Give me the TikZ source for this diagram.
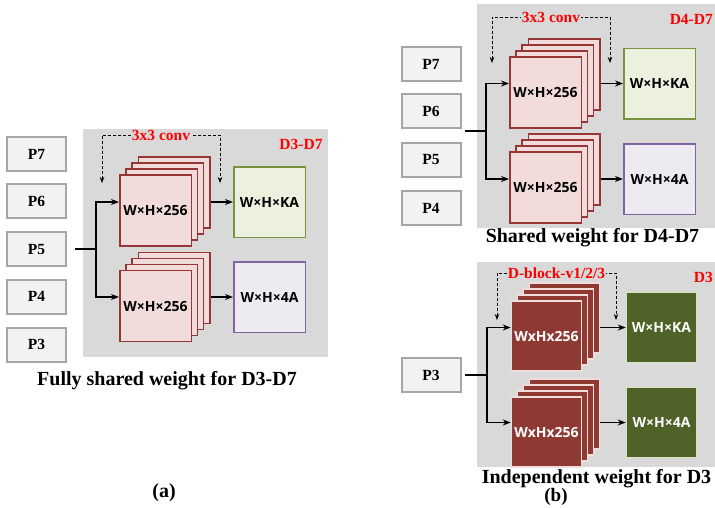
\documentclass[tikz,border=0pt]{standalone}
\usepackage{fontspec}
\setmainfont{Liberation Serif}
\newfontfamily\boxfont{Open Sans}
\usepackage{tikz}
\usetikzlibrary{arrows.meta,calc}
\definecolor{panelgray}{HTML}{D9D9D9}
\definecolor{pfill}{HTML}{F2F2F2}
\definecolor{pedge}{HTML}{A6A6A6}
\definecolor{rosefill}{HTML}{F2DCDB}
\definecolor{roseedge}{HTML}{953735}
\definecolor{clsfill}{HTML}{EBF1DE}
\definecolor{clsedge}{HTML}{77933C}
\definecolor{regfill}{HTML}{EDEAF2}
\definecolor{regedge}{HTML}{8064A2}
\definecolor{brick}{HTML}{8E3A33}
\definecolor{olive}{HTML}{4F6228}
\definecolor{olivelight}{HTML}{D7E4BD}
\newcommand{\dims}[1]{{\boxfont\bfseries\fontsize{14}{16}\selectfont #1}}
\tikzset{
  pbox/.style    = {rectangle, draw=pedge, fill=pfill, line width=2pt, minimum width=59pt,
                    minimum height=34pt, inner sep=0pt, font=\bfseries\fontsize{15.5}{18}\selectfont},
  layer/.style   = {rectangle, draw=roseedge, fill=rosefill, line width=1.5pt,
                    minimum width=71.5pt, minimum height=71pt, inner sep=0pt},
  darklayer/.style = {rectangle, draw=rosefill, fill=brick, line width=1.5pt, text=white,
                    minimum width=70pt, minimum height=70pt, inner sep=0pt},
  outbox/.style  = {rectangle, draw=#1edge, fill=#1fill, line width=1.5pt,
                    minimum width=71.5pt, minimum height=70.5pt, inner sep=0pt},
  darkout/.style = {rectangle, draw=olivelight, fill=olive, line width=1.5pt, text=white,
                    minimum width=70pt, minimum height=70pt, inner sep=0pt},
  flow/.style    = {-{Stealth[length=8pt, width=6pt]}, line width=1.2pt},
  share/.style   = {{Stealth[length=6pt, width=4.5pt]}-{Stealth[length=6pt, width=4.5pt]},
                    dash pattern=on 3pt off 2pt, line width=0.8pt},
  tag/.style     = {text=red, font=\bfseries\fontsize{15.5}{18}\selectfont, inner sep=1pt},
  caption/.style = {font=\bfseries\fontsize{20}{24}\selectfont, inner sep=0pt},
}

\begin{document}
\begin{tikzpicture}[x=1pt, y=-1pt]
  \useasboundingbox (0,0) rectangle (715,507);

  % (a) fully shared head
  \fill[panelgray] (83,129) rectangle (328,357);
  \foreach \p/\y in {P7/154, P6/201, P5/249, P4/296.5, P3/344.5}
    \node[pbox] (a\p) at (36.5,\y) {\p};
  \foreach \nm/\cx/\cy in {sa/155.5/210.5, sb/155.5/306} {
    \foreach \k in {3,2,1}
      \node[layer] (\nm\k) at ({\cx+6.2*\k},{\cy-6*\k}) {};
    \node[layer] (\nm) at (\cx,\cy) {\dims{W×H×256}};
  }
  \node[outbox=cls] (acls) at (269.5,202) {\dims{W×H×KA}};
  \node[outbox=reg] (areg) at (269.5,297) {\dims{W×H×4A}};
  \coordinate (ain) at (75,249);
  \coordinate (asplit) at (96,249);
  \draw[line width=1.2pt] (ain) -- (asplit);
  \draw[flow] (asplit) |- (sa.west |- acls.west);
  \draw[flow] (asplit) |- (sb.west |- areg.west);
  \draw[flow] (sa3.east |- acls.west) -- (acls.west);
  \draw[flow] (sb3.east |- areg.west) -- (areg.west);
  \coordinate (al) at (102,183);
  \coordinate (ar) at (220,183);
  \coordinate (atop) at (0,135);
  \draw[share] (al) -- (al |- atop) -- node[tag, fill=panelgray] (aconv) {3x3 conv} (ar |- atop) -- (ar);
  \node[tag] (arange) at (301,144) {D3-D7};
  \node[caption] (acap) at (167,381) {Fully shared weight for D3-D7};
  \node[caption] (alabel) at (164,493) {(a)};

  % (b) shared head for D4-D7
  \fill[panelgray] (477,4) rectangle (715,228);
  \foreach \p/\y in {P7/64, P6/111, P5/159.5, P4/208}
    \node[pbox] (b\p) at (431,\y) {\p};
  \foreach \nm/\cx/\cy in {ta/545.5/92.5, tb/545.5/187.5} {
    \foreach \k in {3,2,1}
      \node[layer] (\nm\k) at ({\cx+6.2*\k},{\cy-6*\k}) {};
    \node[layer] (\nm) at (\cx,\cy) {\dims{W×H×256}};
  }
  \node[outbox=cls] (tcls) at (659.5,83.5) {\dims{W×H×KA}};
  \node[outbox=reg] (treg) at (659.5,179) {\dims{W×H×4A}};
  \coordinate (tin) at (465,131);
  \coordinate (tsplit) at (486,131);
  \draw[line width=1.2pt] (tin) -- (tsplit);
  \draw[flow] (tsplit) |- (ta.west |- tcls.west);
  \draw[flow] (tsplit) |- (tb.west |- treg.west);
  \draw[flow] (ta3.east |- tcls.west) -- (tcls.west);
  \draw[flow] (tb3.east |- treg.west) -- (treg.west);
  \coordinate (tl) at (492,63);
  \coordinate (tr) at (610,63);
  \coordinate (ttop) at (0,17);
  \draw[share] (tl) -- (tl |- ttop) -- node[tag, fill=panelgray] (tconv) {3x3 conv} (tr |- ttop) -- (tr);
  \node[tag, anchor=east] (trange) at (714,19) {D4-D7};
  \node[caption] (tcap) at (592.5,238) {Shared weight for D4-D7};

  % (b) independent head for D3
  \fill[panelgray] (477,262) rectangle (715,467);
  \node[pbox] (bP3) at (431,375) {P3};
  \foreach \nm/\cx/\cy in {ua/546.5/336, ub/546.5/432} {
    \foreach \k in {3,2,1}
      \node[darklayer] (\nm\k) at ({\cx+6*\k},{\cy-6*\k}) {};
    \node[darklayer] (\nm) at (\cx,\cy) {\dims{WxHx256}};
  }
  \node[darkout] (ucls) at (661.5,327.5) {\dims{W×H×KA}};
  \node[darkout] (ureg) at (661.5,422.5) {\dims{W×H×4A}};
  \coordinate (uin) at (465,375);
  \coordinate (usplit) at (487,375);
  \draw[line width=1.2pt] (uin) -- (usplit);
  \draw[flow] (usplit) |- (ua.west |- ucls.west);
  \draw[flow] (usplit) |- (ub.west |- ureg.west);
  \draw[flow] (ua3.east |- ucls.west) -- (ucls.west);
  \draw[flow] (ub3.east |- ureg.west) -- (ureg.west);
  \coordinate (ul) at (497,320);
  \coordinate (ur) at (616,320);
  \coordinate (utop) at (0,273);
  \draw[share] (ul) -- (ul |- utop) -- node[tag, fill=panelgray] (uconv) {D-block-v1/2/3} (ur |- utop) -- (ur);
  \node[tag, anchor=east] (urange) at (714,277) {D3};
  \node[caption] (ucap) at (596.5,479) {Independent weight for D3};
  \node[caption, font=\bfseries\fontsize{19}{22}\selectfont, anchor=south] (blabel) at (556,506) {(b)};
\end{tikzpicture}
\end{document}
